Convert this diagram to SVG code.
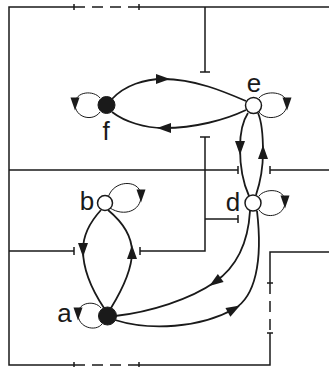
<svg xmlns="http://www.w3.org/2000/svg" width="329" height="367" viewBox="0 0 329 367">
  <defs>
    <marker id="arrow" markerUnits="userSpaceOnUse" markerWidth="15" markerHeight="11" refX="7" refY="5" orient="auto" overflow="visible">
      <path d="M0,0 L14,5 L0,10 Z" fill="#1a1a1a"/>
    </marker>
    <marker id="arrow-s" markerUnits="userSpaceOnUse" markerWidth="14" markerHeight="10" refX="6.5" refY="4.5" orient="auto" overflow="visible">
      <path d="M0,0 L13,4.5 L0,9 Z" fill="#1a1a1a"/>
    </marker>
  </defs>
  <style>
    .frame { fill: none; stroke: #1a1a1a; stroke-width: 1.5; }
    .dash { fill: none; stroke: #1a1a1a; stroke-width: 1.5; stroke-dasharray: 11 7; }
    .edge { fill: none; stroke: #1a1a1a; stroke-width: 1.8; marker-mid: url(#arrow); }
    .loop { fill: none; stroke: #1a1a1a; stroke-width: 1; marker-mid: url(#arrow-s); }
    .open { fill: #ffffff; stroke: #1a1a1a; stroke-width: 1.5; }
    .solid { fill: #1a1a1a; stroke: #1a1a1a; stroke-width: 1; }
    .label { font-family: "Liberation Sans", Arial, sans-serif; font-size: 26px; fill: #1a1a1a; text-anchor: middle; }
  </style>

  <!-- outer regulation frame and inhibitory bars -->
  <g id="connectors-frame">
    <path class="frame" d="M74,7 H9 V365 H74"/>
    <path class="frame" d="M139,7 H329"/>
    <path class="dash" d="M74,7 H139"/>
    <path class="frame" d="M74,4 V10 M139,4 V10"/>
    <path class="frame" d="M139,365 H270 V333"/>
    <path class="dash" d="M74,365 H139"/>
    <path class="frame" d="M74,362 V368 M139,362 V368"/>
    <path class="dash" d="M270,283 V333"/>
    <path class="frame" d="M267,283 H273 M267,333 H273"/>
    <path class="frame" d="M270,283 V252 H329"/>
    <!-- inhibition from top line -->
    <path class="frame" d="M205,7 V72 M200,72 H210"/>
    <!-- inhibition at y=170 -->
    <path class="frame" d="M9,170 H238 M238,166 V174"/>
    <path class="frame" d="M329,170 H270 M270,166 V174"/>
    <!-- central vertical -->
    <path class="frame" d="M200,137 H210 M205,137 V251 H140 M140,247 V255"/>
    <path class="frame" d="M205,219 H238 M238,215 V223"/>
    <path class="frame" d="M9,251 H74 M74,247 V255"/>
  </g>

  <!-- interaction edges -->
  <g id="connectors">
    <path class="edge" d="M112,99 C125,85 145,79 163,79 C195,79 225,92 246,101"/>
    <path class="edge" d="M246,110 C225,120 195,128 164,128 C145,128 125,122 112,112"/>
    <path class="edge" d="M248,113 C242,122 240,135 240,148 C240,165 243,183 249,196"/>
    <path class="edge" d="M256,195 C261,180 263,165 263,152 C263,135 262,122 258,113"/>
    <path class="edge" d="M250,211 C248,245 235,268 215,282 C190,299.5 150,312 115,316"/>
    <path class="edge" d="M115,320 C150,331 200,328 234,309 C255,297 263,262 257,211"/>
    <path class="edge" d="M101,210 C90,222 83,235 83,250 C83,270 92,290 104,308"/>
    <path class="edge" d="M111,308 C122,290 132,270 132,252 C132,235 120,220 108,210"/>
    <!-- self loops -->
    <path class="loop" d="M100,98 C94,90 75,91 75,104 C75,118 93,122 100,112"/>
    <path class="loop" d="M259,98 C265,90 287,91 287,104 C287,118 266,122 259,112"/>
    <path class="loop" d="M259,196 C265,188 285,188 285,202 C285,216 266,220 259,210"/>
    <path class="loop" d="M108,198 C113,179 141,179 141,196 C141,211 124,217 110,208"/>
    <path class="loop" d="M101,308 C95,300 78,302 78,314 C78,328 96,332 102,324"/>
  </g>

  <g id="node-f">
    <circle class="solid" cx="106.5" cy="105" r="8.5"/>
    <text class="label" x="106" y="140">f</text>
  </g>
  <g id="node-e">
    <circle class="open" cx="253.5" cy="105.5" r="8"/>
    <text class="label" x="254" y="92">e</text>
  </g>
  <g id="node-d">
    <circle class="open" cx="253" cy="203" r="8"/>
    <text class="label" x="233" y="211">d</text>
  </g>
  <g id="node-b">
    <circle class="open" cx="105" cy="203" r="7.5"/>
    <text class="label" x="87" y="210">b</text>
  </g>
  <g id="node-a">
    <circle class="solid" cx="107.5" cy="316" r="9"/>
    <text class="label" x="64.5" y="322">a</text>
  </g>
</svg>
